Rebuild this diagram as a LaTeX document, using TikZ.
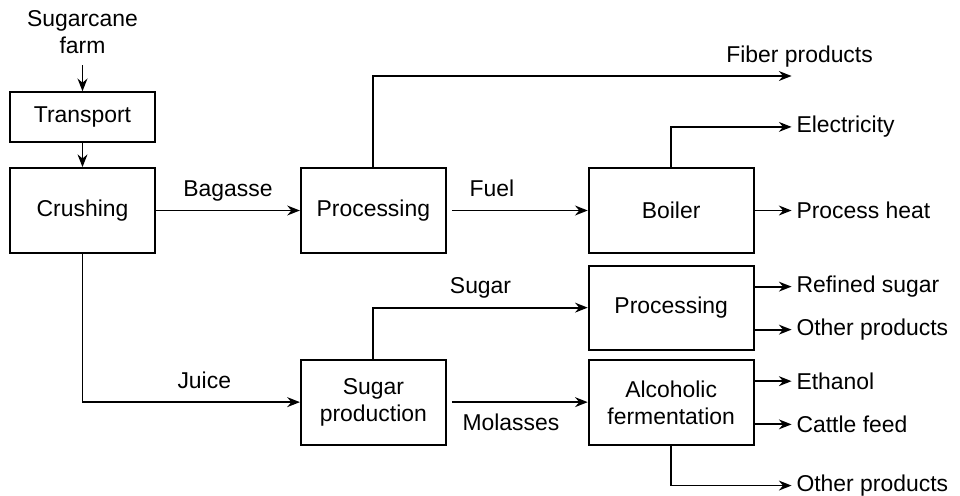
\documentclass[tikz,border=0pt]{standalone}
\usepackage{fontspec}
\setmainfont{Liberation Sans}
\usetikzlibrary{arrows.meta,positioning}
\tikzstyle{stage} = [rectangle, minimum width=3.625cm, minimum height=2.125cm, text centered, align=center, draw, line width=1.3pt]
\tikzstyle{arrow} = [line width=1.3pt, -{Stealth[length=9pt, width=7pt]}]
\tikzstyle{product} = [anchor=west]
\tikzstyle{flowlbl} = [anchor=base, yshift=0.35cm]

\begin{document}
\begin{tikzpicture}[font=\fontsize{16.3}{19.5}\selectfont]
\useasboundingbox (0,0) rectangle (24,-12.375);

% Main stages
\node (crushing) [stage] at (2.0625,-5.2625) {Crushing};
\node (transport) [stage, above=0.6cm of crushing, minimum height=1.25cm] {Transport};
\node (farm) [above=0.65cm of transport, align=center, inner sep=0.27cm] {Sugarcane\\farm};
\node (bagproc) [stage, right=3.6cm of crushing] {Processing};
\node (boiler) [stage, right=3.525cm of bagproc, minimum width=4.125cm] {Boiler};
\node (sugarproc) [stage, below=0.27cm of boiler, minimum width=4.125cm, minimum height=2.1cm] {Processing};
\node (ferment) [stage, below=0.22cm of sugarproc, minimum width=4.125cm] {Alcoholic\\fermentation};
\node (sugarprod) [stage, below=2.62cm of bagproc] {Sugar\\production};

% Products
\node (heat) [product, right=0.925cm of boiler] {Process heat};
\node (elec) [product] at ([yshift=2.09cm]heat.west) {Electricity};
\coordinate (fiberend) at ([yshift=3.3625cm]heat.west);
\node (fiber) [anchor=base] at ([xshift=0.2cm, yshift=0.35cm]fiberend) {Fiber products};
\node (refined) [product] at ([xshift=0.925cm, yshift=0.525cm]sugarproc.east) {Refined sugar};
\node (othersugar) [product] at ([xshift=0.925cm, yshift=-0.55cm]sugarproc.east) {Other products};
\node (ethanol) [product] at ([xshift=0.925cm, yshift=0.54cm]ferment.east) {Ethanol};
\node (cattle) [product] at ([xshift=0.925cm, yshift=-0.54cm]ferment.east) {Cattle feed};
\node (otherferm) [product] at ([xshift=0.925cm, yshift=-2.07cm]ferment.east) {Other products};

% Arrows
\draw[arrow] (farm) -- (transport);
\draw[arrow] (transport) -- (crushing);
\draw[arrow] (crushing) -- node[flowlbl] {Bagasse} (bagproc);
\draw[arrow, shorten <=0.125cm] (bagproc) -- node[flowlbl, pos=0.32] {Fuel} (boiler);
\draw[arrow] (bagproc.north) |- (fiberend);
\draw[arrow] (boiler.north) |- (elec.west);
\draw[arrow] (boiler) -- (heat);
\draw[arrow] (crushing.south) |- node[flowlbl, pos=0.78] {Juice} (sugarprod.west);
\draw[arrow] (sugarprod.north) |- node[flowlbl, pos=0.75] {Sugar} (sugarproc.west);
\draw[arrow, shorten <=0.125cm] (sugarprod.east) -- node[anchor=base, yshift=-0.72cm, pos=0.455] {Molasses} (sugarprod.east -| ferment.west);
\draw[arrow] ([yshift=0.525cm]sugarproc.east) -- (refined.west);
\draw[arrow] ([yshift=-0.55cm]sugarproc.east) -- (othersugar.west);
\draw[arrow] ([yshift=0.54cm]ferment.east) -- (ethanol.west);
\draw[arrow] ([yshift=-0.54cm]ferment.east) -- (cattle.west);
\draw[arrow] (ferment.south) |- (otherferm.west);
\end{tikzpicture}
\end{document}
